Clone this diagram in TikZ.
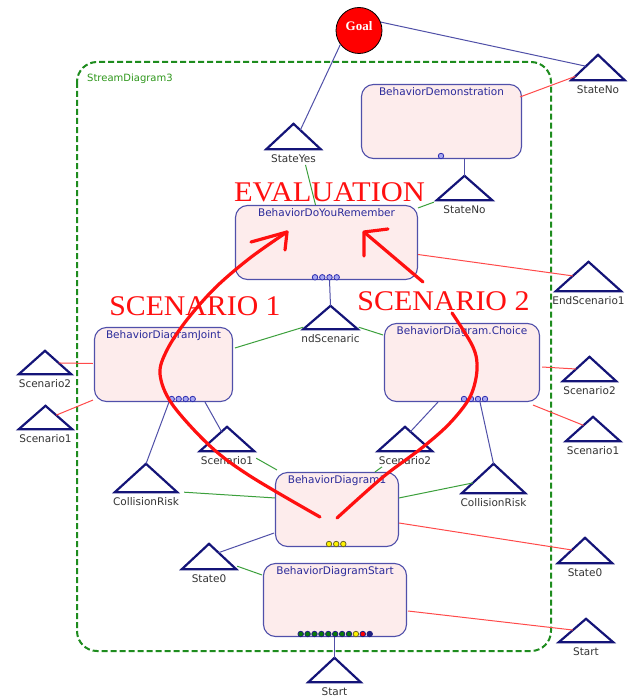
\documentclass[tikz,border=0pt]{standalone}
\usepackage{fontspec}
\setmainfont{DejaVu Sans}
\newfontfamily\redfont{Liberation Serif}
\usetikzlibrary{calc}
\definecolor{navytri}{HTML}{141478}
\definecolor{boxborder}{HTML}{5050AA}
\definecolor{boxfill}{HTML}{FDECEC}
\definecolor{titleblue}{HTML}{2A2A9A}
\definecolor{labelgray}{HTML}{333333}
\definecolor{lineblue}{HTML}{5050A8}
\definecolor{linegreen}{HTML}{3CA03C}
\definecolor{linered}{HTML}{FF4A4A}
\definecolor{dashgreen}{HTML}{1E8C1E}
\definecolor{annred}{HTML}{FF1010}
\definecolor{dotborder}{HTML}{3030B0}
\definecolor{dotfill}{HTML}{A8A8F0}
\definecolor{dotgreenfill}{HTML}{0A7A0A}
\definecolor{dotnavy}{HTML}{202080}
\tikzset{
 bbox/.style={draw=boxborder, fill=boxfill, line width=1.1pt, rounded corners=12pt, inner sep=0pt},
 btitle/.style={font=\fontsize{10.5}{12}\selectfont, text=titleblue, text height=7.5pt, text depth=2.5pt, inner sep=0pt},
 trinode/.style={inner sep=0pt, draw=none},
 trishape/.style={draw=navytri, line width=2.2pt, line join=miter},
 trilabel/.style={font=\fontsize{10.5}{12}\selectfont, text=labelgray, text height=7.5pt, text depth=2.5pt, inner sep=0pt},
 cblue/.style={draw=lineblue, line width=1pt},
 cgreen/.style={draw=linegreen, line width=1pt},
 cred/.style={draw=linered, line width=1pt},
 ann/.style={draw=annred, line width=3.2pt, line cap=round, line join=round},
 anntext/.style={font=\redfont\fontsize{28.5}{30}\selectfont, text=annred, inner sep=0pt, anchor=base},
 dotbase/.style={circle, inner sep=0pt, minimum size=5.5pt, line width=0.8pt},
 dotb/.style={dotbase, draw=dotborder, fill=dotfill},
 doty/.style={dotbase, draw=olive!70!black, fill=yellow},
 dotg/.style={dotbase, draw=dotnavy, fill=dotgreenfill},
 dotr/.style={dotbase, draw=dotnavy, fill=red},
 dotn/.style={dotbase, draw=dotnavy, fill=dotnavy},
}
\newcommand{\mytri}[6]{%
 \node[trinode, minimum width=#4pt, minimum height=#5pt] (#1) at (#2,{#3+#5/2}) {};
 \draw[trishape] (#1.south west) -- (#1.north) -- (#1.south east) -- cycle;
 \node[trilabel] (#1L) at ($(#1.south)+(0,10.5)$) {#6};}
\newcommand{\mybox}[6]{%
 \node[bbox, minimum width=#4pt, minimum height=#5pt] (#1) at (#2,#3) {};
 \node[btitle] (#1T) at ($(#1.north)+(0,9)$) {#6};}
\begin{document}
\begin{tikzpicture}[x=1pt,y=-1pt]
\useasboundingbox (0,0) rectangle (629,698);
\fill[white] (0,0) rectangle (629,698);
% container
\draw[dashgreen, line width=2pt, dash pattern=on 6pt off 3pt, rounded corners=20pt] (77,62) rectangle (551,651);
\node[anchor=west, font=\fontsize{10}{12}\selectfont, text=dashgreen!90!lime, inner sep=0pt] (sdlabel) at (87,79) {StreamDiagram3};
% goal
\node[circle, fill=red, draw=black, line width=0.8pt, minimum size=46pt, inner sep=0pt] (goal) at (359,30.5) {};
\node[font=\redfont\bfseries\fontsize{13}{14}\selectfont, text=white, inner sep=0pt] (goalT) at (359,26) {Goal};
% triangles
\mytri{stNoTop}{598}{55}{53}{25}{StateNo}
\mytri{stYes}{293.5}{124}{54}{25}{StateYes}
\mytri{stNoMid}{464.5}{176}{55}{24}{StateNo}
\mytri{endScA}{588.5}{262}{65}{29}{EndScenario1}
\mytri{endSc}{330.5}{306}{54}{23}{ndScenaric}
\mytri{scBL}{45}{351}{52}{23}{Scenario2}
\mytri{scAL}{45.5}{406}{53}{23}{Scenario1}
\mytri{scAC}{227}{427}{54}{24}{Scenario1}
\mytri{scBC}{405}{427}{54}{24}{Scenario2}
\mytri{crL}{146}{464}{62}{28}{CollisionRisk}
\mytri{crR}{493.5}{464}{63}{29}{CollisionRisk}
\mytri{scBR}{589.5}{357}{53}{24}{Scenario2}
\mytri{scAR}{593}{417}{54}{24}{Scenario1}
\mytri{sZL}{209}{544}{54}{25}{State0}
\mytri{sZR}{585}{538}{54}{25}{State0}
\mytri{startR}{586}{619}{54}{23}{Start}
\mytri{startB}{334.5}{658}{52}{24}{Start}
% boxes
\mybox{demo}{441.5}{121.5}{160}{74}{BehaviorDemonstration}
\mybox{remember}{326.5}{242.5}{182}{74}{BehaviorDoYouRemember}
\mybox{joint}{163.5}{364.5}{138}{74}{BehaviorDiagramJoint}
\mybox{choice}{462}{362.5}{155}{78}{BehaviorDiagram.Choice}
\mybox{diagA}{337}{509.5}{123}{74}{BehaviorDiagram1}
\mybox{start}{335}{600}{143}{73}{BehaviorDiagramStart}
% connectors
\draw[cblue] (goal.217) -- ($(stYes.north)!0.25!(stYes.south east)$);
\draw[cblue] (goal.21) -- ($(stNoTop.north)!0.45!(stNoTop.south west)$);
\draw[cred] ($(stNoTop.north)!0.85!(stNoTop.south west)$) -- ($(demo.north east)+(-2,13)$);
\draw[cblue] (stNoMid.north |- demo.south) -- (stNoMid.north);
\draw[cgreen] ($(stYesL.south)+(12,0)$) -- ($(remember.north)+(-11,0)$);
\draw[cgreen] ($(remember.north east)+(0,3)$) -- ($(stNoMid.south west)+(-3,2)$);
\draw[cred] ($(remember.east)+(0,12)$) -- ($(endScA.north)!0.48!(endScA.south west)$);
\draw[cblue] ($(endSc.north |- remember.south)+(-1,0)$) -- (endSc.north);
\draw[cgreen] ($(endSc.south west)+(0,-2)$) -- ($(joint.north east)+(2,21)$);
\draw[cgreen] ($(endSc.south east)+(1,-2)$) -- ($(choice.north west)+(-1,12)$);
\draw[cred] ($(scBL.north)!0.52!(scBL.south east)$) -- ($(joint.west)+(-1,-1)$);
\draw[cred] ($(scAL.north)!0.4!(scAL.south east)$) -- ($(joint.south west)+(-1,-2)$);
\draw[cblue] ($(joint.south)+(5.5,0)$) -- (crL.north);
\draw[cblue] ($(joint.south)+(41.5,0)$) -- ($(scAC.north)!0.2!(scAC.south west)$);
\draw[cgreen] ($(scAC.south east)+(2,7)$) -- ($(diagA.north west)+(2,-2)$);
\draw[cgreen] ($(crL.south east)+(7,0)$) -- ($(diagA.north west)+(0,26)$);
\draw[cblue] ($(choice.south)+(-24,0)$) -- ($(scBC.north)!0.2!(scBC.south east)$);
\draw[cblue] ($(choice.south)+(18,0)$) -- (crR.north);
\draw[cgreen] ($(scBCL.south)+(-23,0)$) -- ($(diagA.north)+(38,0)$);
\draw[cgreen] ($(crR.north)!0.65!(crR.south west)$) -- ($(diagA.north east)+(0,26)$);
\draw[cblue] ($(diagA.south west)+(-1,-14)$) -- ($(sZL.north)!0.35!(sZL.south east)$);
\draw[cgreen] ($(sZL.south east)+(1,-3)$) -- ($(start.north west)+(-1,12)$);
\draw[cred] ($(diagA.east)+(0,13.5)$) -- ($(sZR.north)!0.48!(sZR.south west)$);
\draw[cred] ($(start.east)+(1,11)$) -- ($(startR.north)!0.48!(startR.south west)$);
\draw[cblue] (startB.north |- start.south) -- (startB.north);
\draw[cred] ($(choice.east)+(2,4.5)$) -- ($(scBR.north)!0.5!(scBR.south west)$);
\draw[cred] ($(choice.south east)+(-7,3)$) -- ($(scAR.north)!0.35!(scAR.south west)$);
% port dots
\node[dotb] (demoP) at (441,156) {};
\foreach \i/\x in {1/315,2/322.3,3/329.5,4/336.7} \node[dotb] (remP\i) at (\x,277.3) {};
\foreach \i/\x in {1/171.7,2/178.7,3/185.7,4/192.7} \node[dotb] (jointP\i) at (\x,399) {};
\foreach \i/\x in {1/464,2/471,3/478,4/485} \node[dotb] (choiceP\i) at (\x,399) {};
\foreach \i/\x in {1/329,2/336.2,3/343.3} \node[doty] (diagAP\i) at (\x,544) {};
\foreach \i in {0,...,7} \node[dotg] (startP\i) at ({300.7+6.9*\i},634) {};
\node[doty] (startP8) at ({300.7+6.9*8},634) {};
\node[dotr] (startP9) at ({300.7+6.9*9},634) {};
\node[dotn] (startP10) at ({300.7+6.9*10},634) {};
% annotations
\node[anntext] (evalT) at (329.5,201) {\scalebox{1.07}[1]{EVALUATION}};
\node[anntext] (scAT) at (195,315) {\scalebox{1.045}[1]{SCENARIO 1}};
\node[anntext] (scBT) at (443.5,310) {\scalebox{1.05}[1]{SCENARIO 2}};
\draw[ann] plot[smooth, tension=0.55] coordinates {(320,517) (250,476) (210,446) (172,404) (160,374) (167,350) (186,321) (215,288) (250,258) (287,232)};
\draw[ann] (251,242) -- (287,232) -- (285,250);
\draw[ann] plot[smooth, tension=0.55] coordinates {(337,518) (383,477) (423,447) (450,423) (470,397) (477,370) (473,347) (452,313)};
\draw[ann] (423,282) -- (364,232);
\draw[ann] (388,229) -- (364,232) -- (364,256);
\end{tikzpicture}
\end{document}
